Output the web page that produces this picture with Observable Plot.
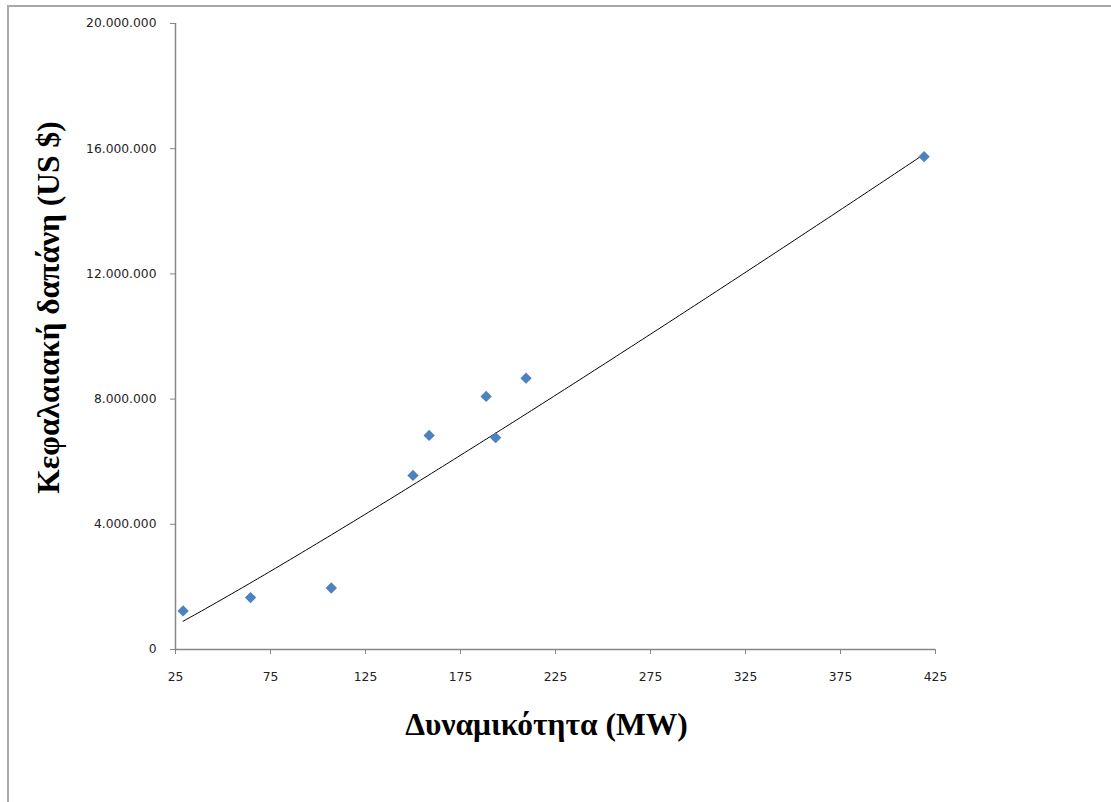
<!DOCTYPE html>
<html>
<head>
<meta charset="utf-8">
<script src="https://cdn.jsdelivr.net/npm/d3@7"></script>
<script src="https://cdn.jsdelivr.net/npm/@observablehq/plot@0.6"></script>
<style>
  html, body { margin: 0; padding: 0; background: #fff; }
  #wrap { position: relative; width: 1111px; height: 802px; overflow: hidden; }
  #frame { position: absolute; left: 7px; top: 5px; right: -10px; bottom: -10px;
           border-top: 2px solid #a8a8a8; border-left: 2px solid #a8a8a8; pointer-events: none; }
  #chart { position: absolute; left: 0; top: 0; }
</style>
</head>
<body>
<div id="wrap"><div id="chart"></div><div id="frame"></div></div>
<script>
// Data
const capacityMW = [29, 64.5, 107, 150, 158.5, 188.5, 193.5, 209.5, 419];
const capitalCostUSD = [1232000, 1660000, 1966000, 5563000, 6840000, 8085000, 6767000, 8669000, 15745000];
const xTicks = [25, 75, 125, 175, 225, 275, 325, 375, 425];
const yTicks = [0, 4000000, 8000000, 12000000, 16000000, 20000000];
const xTitle = "Δυναμικότητα (MW)";
const yTitle = "Κεφαλαιακή δαπάνη (US $)";

const points = capacityMW.map((x, i) => ({x, y: capitalCostUSD[i]}));

// Power trendline (least squares in log-log space, as a spreadsheet power fit)
const lx = points.map(d => Math.log(d.x)), ly = points.map(d => Math.log(d.y));
const mx = d3.mean(lx), my = d3.mean(ly);
const b = d3.sum(lx, (v, i) => (v - mx) * (ly[i] - my)) / d3.sum(lx, v => (v - mx) ** 2);
const a = Math.exp(my - b * mx);
const [xmin, xmax] = d3.extent(capacityMW);
const trend = d3.range(0, 201).map(k => {
  const x = xmin + (xmax - xmin) * k / 200;
  return {x, y: a * Math.pow(x, b)};
});

const loc = d3.formatLocale({thousands: ".", grouping: [3], decimal: ",", currency: ["$", ""]});
const fmt = loc.format(",d");

const axisColor = "#868686";
const tickFont = "'DejaVu Sans', sans-serif";
const titleFont = "'Liberation Serif', 'Times New Roman', serif";

const chart = Plot.plot({
  width: 1111,
  height: 802,
  marginLeft: 175,
  marginRight: 176,
  marginTop: 23,
  marginBottom: 153,
  style: {background: "transparent", overflow: "visible"},
  x: {domain: [25, 425], label: null},
  y: {domain: [0, 20000000], label: null},
  marks: [
    Plot.axisX({ticks: xTicks, tickSize: 5, tickPadding: 18, stroke: axisColor, fill: "#222",
                fontSize: 12.3, fontFamily: tickFont, label: null}),
    Plot.axisY({ticks: yTicks, tickSize: 5, tickPadding: 14, stroke: axisColor, fill: "#222",
                fontSize: 12.3, fontFamily: tickFont, tickFormat: fmt, label: null}),
    Plot.ruleX([25], {stroke: axisColor, strokeWidth: 1.5}),
    Plot.ruleY([0], {stroke: axisColor, strokeWidth: 1.5}),
    Plot.line(trend, {x: "x", y: "y", stroke: "#000", strokeWidth: 1}),
    Plot.dot(points, {x: "x", y: "y", symbol: "diamond2", r: 5.1, fill: "#4f81bd", stroke: "none"}),
    Plot.text([xTitle], {frameAnchor: "bottom", dx: -9, dy: 75, text: d => d, textAnchor: "middle",
                         fontFamily: titleFont, fontWeight: "bold",
                         fontSize: 31.5, fill: "#000", lineAnchor: "middle"}),
    Plot.text([yTitle], {frameAnchor: "left", dx: -127, dy: -29, rotate: -90, text: d => d, textAnchor: "middle",
                         fontFamily: titleFont, fontWeight: "bold",
                         fontSize: 31.5, fill: "#000", lineAnchor: "middle"})
  ]
});
document.getElementById("chart").appendChild(chart);
</script>
</body>
</html>
